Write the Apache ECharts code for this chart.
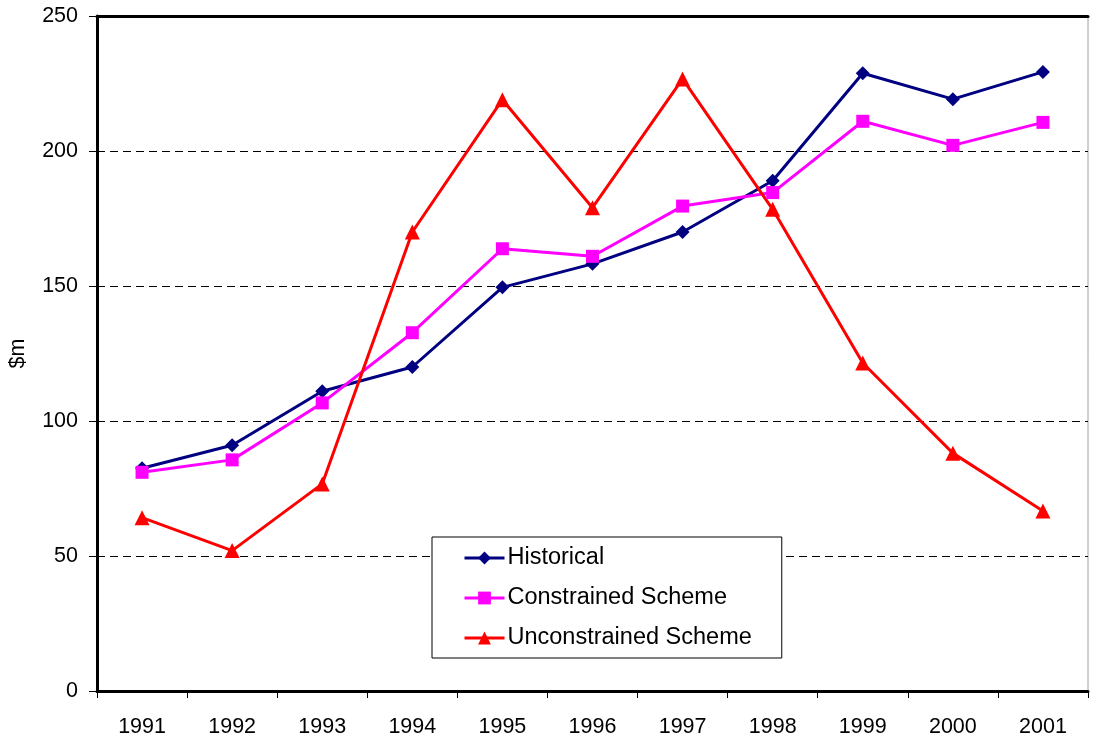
<!DOCTYPE html>
<html>
<head>
<meta charset="utf-8">
<script src="https://cdn.jsdelivr.net/npm/echarts@6/dist/echarts.min.js"></script>
<style>
  html, body { margin: 0; padding: 0; background: #fff; }
  #chart { width: 1093px; height: 738px; }
</style>
</head>
<body>
<div id="chart"></div>
<script>
// chart data
var years = ['1991', '1992', '1993', '1994', '1995', '1996', '1997', '1998', '1999', '2000', '2001']
var historical = [82.5, 91, 111, 120, 149.5, 158.2, 170, 189, 228.8, 219.2, 229.3]
var constrained = [81, 85.6, 106.7, 132.7, 163.8, 161, 179.6, 184.6, 211, 202.1, 210.6]
var unconstrained = [64.2, 52, 76.7, 170, 219, 179, 226.7, 178.4, 121.5, 88.1, 66.7]
var yTicks = [0, 50, 100, 150, 200, 250]

var font = 'Liberation Sans, Arial, sans-serif'
var chart = echarts.init(document.getElementById('chart'))

function lineSeries(name, data, color, symbol, size) {
  return {
    name: name,
    type: 'line',
    data: data,
    symbol: symbol,
    symbolSize: size,
    showAllSymbol: true,
    animation: false,
    itemStyle: { color: color },
    lineStyle: { color: color, width: 3 },
    emphasis: { disabled: true }
  }
}

chart.setOption({
  backgroundColor: '#fff',
  grid: {
    left: 97,
    right: 5,
    top: 16,
    bottom: 47,
    outerBoundsMode: 'none',
    containLabel: false,
    show: true,
    borderColor: '#a0a0a0',
    borderWidth: 1,
    backgroundColor: '#fff'
  },
  legend: {
    orient: 'vertical',
    left: 432,
    top: 537,
    padding: [9, 30, 8, 31],
    borderColor: '#000',
    borderWidth: 1,
    backgroundColor: '#fff',
    itemWidth: 40,
    itemHeight: 16,
    itemGap: 16,
    lineStyle: { width: 3 },
    textStyle: { fontFamily: font, fontSize: 23.5, lineHeight: 24, color: '#000', padding: [0, 0, 0, -2] },
    data: ['Historical', 'Constrained Scheme', 'Unconstrained Scheme']
  },
  xAxis: [{
    type: 'category',
    data: years,
    boundaryGap: true,
    axisLine: { lineStyle: { color: '#000', width: 3 } },
    axisTick: { show: true, length: 7, lineStyle: { color: '#000', width: 1 } },
    axisLabel: { fontFamily: font, fontSize: 21.5, color: '#000', margin: 25 },
    splitLine: { show: false }
  }, {
    type: 'category',
    data: years,
    position: 'top',
    axisLine: { lineStyle: { color: '#000', width: 3 } },
    axisTick: { show: false },
    axisLabel: { show: false },
    splitLine: { show: false }
  }],
  yAxis: {
    type: 'value',
    min: yTicks[0],
    max: yTicks[yTicks.length - 1],
    interval: 50,
    name: '$m',
    nameLocation: 'middle',
    nameRotate: 90,
    nameGap: 68,
    nameTextStyle: { fontFamily: font, fontSize: 21.5, color: '#000' },
    axisLine: { show: true, lineStyle: { color: '#000', width: 3 } },
    axisTick: { show: true, length: 8, lineStyle: { color: '#000', width: 1 } },
    axisLabel: { fontFamily: font, fontSize: 21.5, color: '#000', margin: 19 },
    splitLine: { show: true, lineStyle: { color: '#000', width: 1, type: [8, 5] } }
  },
  series: [
    lineSeries('Historical', historical, '#000080', 'diamond', 14),
    lineSeries('Constrained Scheme', constrained, '#FF00FF', 'rect', 13),
    lineSeries('Unconstrained Scheme', unconstrained, '#FF0000', 'triangle', 15)
  ]
})
</script>
</body>
</html>
